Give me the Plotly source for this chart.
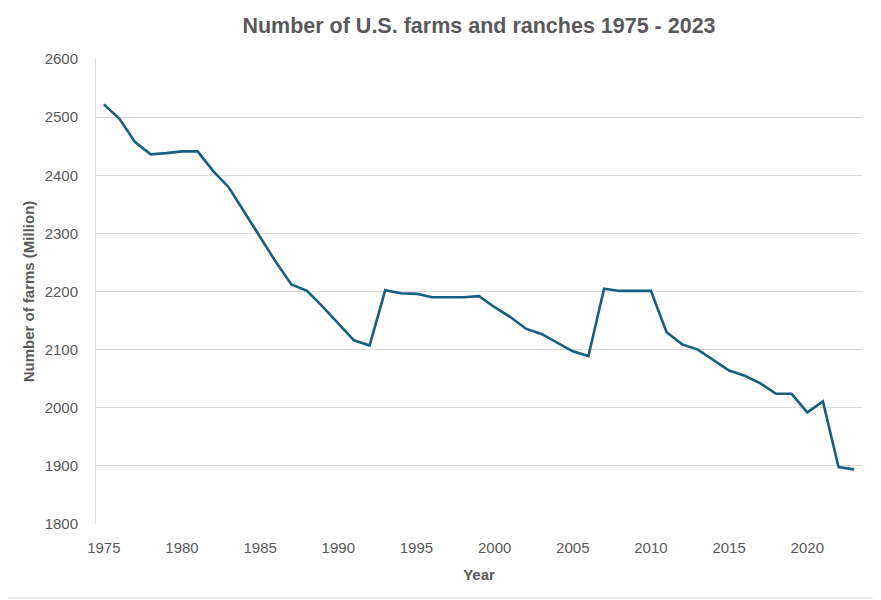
import plotly.graph_objects as go

# Farms per year (thousands, labelled "Million" on the axis)
years = list(range(1975, 2024))
farms = [
    2522, 2497, 2457, 2436, 2438, 2441, 2441, 2407, 2379, 2337,
    2294, 2251, 2212, 2201, 2174, 2145, 2116, 2107, 2202, 2197,
    2196, 2190, 2190, 2190, 2192, 2173, 2156, 2136, 2127, 2112,
    2097, 2089, 2205, 2201, 2201, 2201, 2130, 2109, 2100, 2082,
    2064, 2055, 2042, 2024, 2024, 1992, 2011, 1898, 1894,
]
x_ticks = list(range(1975, 2021, 5))
y_ticks = list(range(1800, 2601, 100))

W, H = 881, 600
off = 8  # page body margin shifts the figure by this much
ml, mt = 96 - off, 59 - off
mr, mb = W - (862 - off), H - (524 - off)
pw, ph = W - ml - mr, H - mt - mb

grey = "#595959"
grid = "#d9d9d9"

fig = go.Figure()
fig.add_trace(go.Scatter(
    x=years, y=farms, mode="lines",
    line=dict(color="#156082", width=2.6),
    hoverinfo="x+y", showlegend=False,
))

fig.update_layout(
    width=W, height=H,
    margin=dict(l=ml, r=mr, t=mt, b=mb, autoexpand=False),
    paper_bgcolor="white", plot_bgcolor="white",
    font=dict(family="Liberation Sans, Arial, sans-serif", color=grey, size=15),
    title=dict(
        text="<b>Number of U.S. farms and ranches 1975 - 2023</b>",
        x=0.5, xref="paper", xanchor="center",
        y=1 - (25 - off) / H, yanchor="middle",
        font=dict(size=21.5, color=grey),
    ),
)

fig.update_xaxes(
    range=[1974.5, 2023.5], tickvals=x_ticks, showgrid=False, zeroline=False,
    showline=False, ticks="", tickfont=dict(size=15, color=grey),
    ticklabelstandoff=13, automargin=False,
    title=dict(text="<b>Year</b>", font=dict(size=15, color=grey), standoff=14),
)
fig.update_yaxes(
    range=[1800, 2600], tickvals=y_ticks, showgrid=True, gridcolor=grid, gridwidth=1,
    zeroline=False, showline=True, linecolor=grid, linewidth=1, ticks="",
    tickfont=dict(size=15, color=grey), ticklabelstandoff=14, automargin=False,
    title=dict(text="<b>Number of farms (Million)</b>", font=dict(size=15, color=grey), standoff=6),
)

# outer chart frame
fig.add_shape(
    type="rect", xref="paper", yref="paper",
    x0=(1 - off - ml) / pw, x1=(877 - off - ml) / pw,
    y0=(H - mb - (598 - off)) / ph, y1=(H - mb - (1 - off)) / ph,
    line=dict(color=grid, width=1), layer="below",
)

fig.write_html("out.html")
